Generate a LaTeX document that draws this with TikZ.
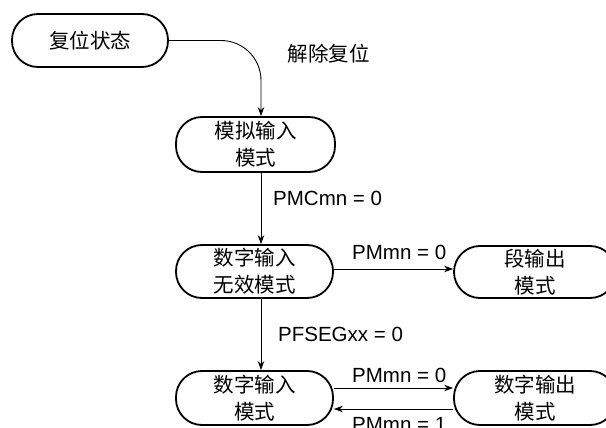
\documentclass[tikz,border=0pt]{standalone}
\usepackage{fontspec}
\setmainfont{Liberation Sans}
\newfontfamily\cjk{Noto Sans CJK SC}
\usetikzlibrary{arrows.meta}
\begin{document}
\begin{tikzpicture}[x=1pt,y=1pt,
  state/.style={draw, line width=1.8pt, rounded corners=26pt, minimum height=53pt,
    align=center, inner sep=0pt, font=\cjk\fontsize{20.5}{27}\selectfont},
  lbl/.style={font=\fontsize{20.5}{24}\selectfont, inner sep=0pt},
  cjklbl/.style={font=\cjk\fontsize{20.5}{24}\selectfont, inner sep=0pt},
  conn/.style={line width=0.9pt, -{Stealth[length=9pt,width=6.5pt]}}]
\useasboundingbox (0,0) rectangle (606,-428);
\clip (0,0) rectangle (606,-428);

\node[state, minimum width=156pt] (n1) at (90,-40.5) {复位状态};
\node[state, minimum width=159pt, minimum height=55pt] (n2) at (255.5,-144.5) {模拟输入\\模式};
\node[state, minimum width=157pt] (n3) at (254.5,-271.5) {数字输入\\无效模式};
\node[state, minimum width=162pt, minimum height=52pt] (n4) at (535,-272) {段输出\\模式};
\node[state, minimum width=157pt, minimum height=54pt] (n5) at (254.5,-398) {数字输入\\模式};
\node[state, minimum width=162pt, minimum height=54pt] (n6) at (535,-398) {数字输出\\模式};

\coordinate (vx) at (261,0);

\draw[conn, rounded corners=40pt] (n1.east) -| (n2.north -| vx);
\draw[conn] (n2.south -| vx) -- (n3.north -| vx);
\draw[conn] (n3.south -| vx) -- (n5.north -| vx);
\draw[conn] ([yshift=2.5pt]n3.east) -- ([yshift=3pt]n4.west);
\draw[conn] ([yshift=10pt]n5.east) -- ([yshift=10pt]n6.west);
\draw[conn] ([yshift=-11pt]n6.west) -- ([yshift=-11pt]n5.east);

\node[cjklbl] (l1) at (328.5,-54) {解除复位};
\node[lbl, anchor=west] (l2) at (273,-198) {PMCmn = 0};
\node[lbl, anchor=west] (l3) at (352,-252) {PMmn = 0};
\node[lbl, anchor=west] (l4) at (278,-334) {PFSEGxx = 0};
\node[lbl, anchor=west] (l5) at (352,-375) {PMmn = 0};
\node[lbl, anchor=west] (l6) at (352,-424.5) {PMmn = 1};
\end{tikzpicture}
\end{document}
